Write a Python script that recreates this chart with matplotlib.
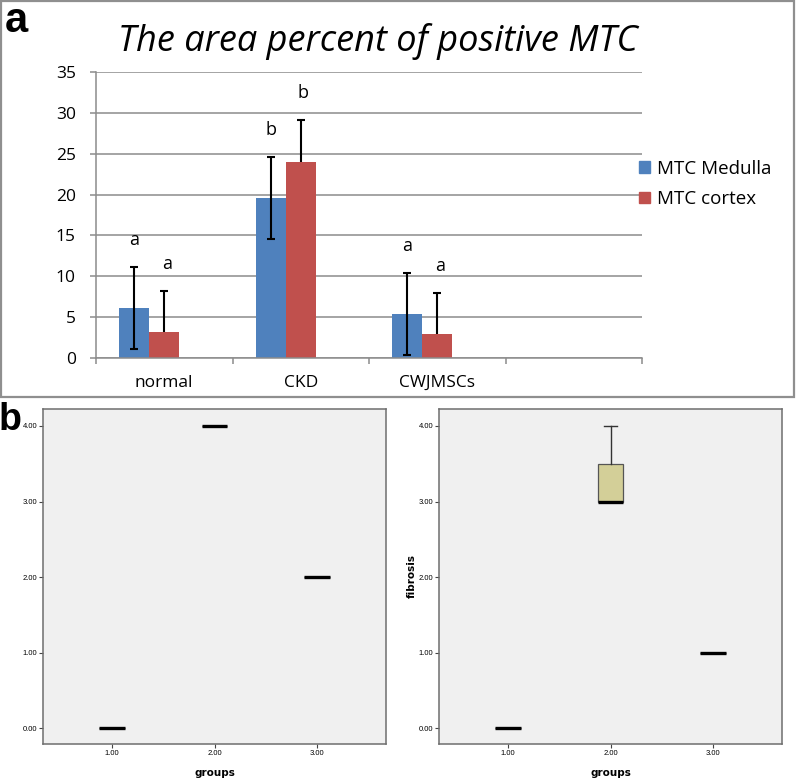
import numpy as np
import matplotlib
matplotlib.use("Agg")
import matplotlib.pyplot as plt
from matplotlib.patches import Rectangle, Patch

W, H = 797, 782

# panel a data
groups_a = ["normal", "CKD", "CWJMSCs", ""]
medulla = [6.1, 19.6, 5.4]
medulla_err = [5.0, 5.0, 5.0]
cortex = [3.2, 24.0, 2.9]
cortex_err = [5.0, 5.1, 5.1]
sig_medulla = ["a", "b", "a"]
sig_cortex = ["a", "b", "a"]

# panel b data (scores per group)
group_ticks = [1, 2, 3]
left_scores = [[0, 0, 0, 0, 0], [4, 4, 4, 4, 4], [2, 2, 2, 2, 2]]
fibrosis = [[0, 0, 0, 0, 0], [3, 3, 3, 3, 4], [1, 1, 1, 1, 1]]

blue = "#4F81BD"
red = "#C0504D"
gridc = "#8c8c8c"
font = "Open Sans"


def px(l, t, r, b):
    return [l / W, 1 - b / H, (r - l) / W, (b - t) / H]


fig = plt.figure(figsize=(W / 100, H / 100), dpi=100)

# outer frame of panel a
fig.patches.append(Rectangle((1 / W, 1 - 397 / H), 793 / W, 396 / H,
                             transform=fig.transFigure, fill=False,
                             edgecolor="#8f8f8f", linewidth=1.6))

ax = fig.add_axes(px(96, 72, 642, 358))
x = np.arange(len(medulla))
bw = 0.22
ax.bar(x - bw, medulla, bw, color=blue, zorder=2)
ax.bar(x, cortex, bw, color=red, zorder=2)
ax.errorbar(x - bw, medulla, yerr=medulla_err, fmt="none", ecolor="black",
            elinewidth=1.5, capsize=3, capthick=1.5, zorder=3)
# cortex bars hide the lower half of their error bars
ax.errorbar(x, cortex, yerr=cortex_err, fmt="none", ecolor="black",
            elinewidth=1.5, capsize=3, capthick=1.5, zorder=1.9)
for i in range(len(medulla)):
    ax.text(x[i] - bw, medulla[i] + medulla_err[i] + 3.3, sig_medulla[i],
            ha="center", va="center", fontsize=13, family=font)
    ax.text(x[i] + 0.02, cortex[i] + cortex_err[i] + 3.3, sig_cortex[i],
            ha="center", va="center", fontsize=13, family=font)

ax.set_xlim(-0.5, len(groups_a) - 0.5)
ax.set_ylim(0, 35)
ax.set_yticks(np.arange(0, 36, 5))
ax.yaxis.grid(True, color=gridc, linewidth=1.1)
ax.set_axisbelow(True)
ax.set_xticks(np.arange(len(groups_a)))
ax.set_xticklabels(groups_a, family=font, fontsize=12.5)
ax.set_xticks(np.arange(len(groups_a) + 1) - 0.5, minor=True)
ax.tick_params(axis="x", which="major", length=0, pad=12)
ax.tick_params(axis="x", which="minor", length=4, width=1.1, color=gridc)
ax.tick_params(axis="y", length=4.5, width=1.1, color=gridc, pad=10,
               labelsize=12.5)
for lab in ax.get_yticklabels():
    lab.set_family(font)
for s in ["top", "right"]:
    ax.spines[s].set_visible(False)
for s in ["left", "bottom"]:
    ax.spines[s].set_color(gridc)
    ax.spines[s].set_linewidth(1.1)

fig.text(378 / W, 1 - 42 / H, "The area percent of positive MTC",
         ha="center", va="center", fontsize=26, style="italic", family=font)
fig.text(5 / W, 1 - 32 / H, "a", fontsize=30, fontweight="bold",
         family="Liberation Sans", va="baseline")

fig.legend(handles=[Patch(color=blue, label="MTC Medulla"),
                    Patch(color=red, label="MTC cortex")],
           loc="center left", bbox_to_anchor=(639 / W, 1 - 184 / H),
           frameon=False, prop={"family": font, "size": 13.5},
           handlelength=0.6, handleheight=0.6, handletextpad=0.35,
           labelspacing=0.65, borderaxespad=0, borderpad=0)


def spss_stats(data):
    out = []
    for d in data:
        d = np.asarray(d, float)
        q1, med, q3 = np.percentile(d, [25, 50, 75], method="weibull")
        iqr = q3 - q1
        lo = d[d >= q1 - 1.5 * iqr].min()
        hi = d[d <= q3 + 1.5 * iqr].max()
        out.append(dict(med=med, q1=q1, q3=q3, whislo=lo, whishi=hi,
                        fliers=[]))
    return out


def box_panel(rect, data, ylabel):
    bx = fig.add_axes(rect)
    bx.set_facecolor("#f0f0f0")
    bx.bxp(spss_stats(data), positions=group_ticks, widths=0.25,
           capwidths=0.125, patch_artist=True, showfliers=False,
           boxprops=dict(facecolor="#d3cf98", edgecolor="#555555",
                         linewidth=0.9),
           whiskerprops=dict(color="#333333", linewidth=1.0),
           capprops=dict(color="#333333", linewidth=1.0),
           medianprops=dict(color="black", linewidth=2.4))
    bx.set_xlim(0.33, 3.67)
    bx.set_ylim(-0.21, 4.225)
    bx.set_xticks(group_ticks)
    bx.set_xticklabels(["%.2f" % g for g in group_ticks])
    bx.set_yticks([0, 1, 2, 3, 4])
    bx.set_yticklabels(["%.2f" % v for v in [0, 1, 2, 3, 4]])
    bx.tick_params(length=3, width=0.8, labelsize=5.5, pad=1.2,
                   color="#444444")
    for lab in bx.get_xticklabels() + bx.get_yticklabels():
        lab.set_family("Liberation Sans")
    for s in bx.spines.values():
        s.set_color("#6e6e6e")
        s.set_linewidth(1.1)
    bx.set_xlabel("groups", fontsize=7.5, fontweight="bold", labelpad=8)
    if ylabel:
        bx.set_ylabel(ylabel, fontsize=7.5, fontweight="bold", labelpad=1)
    return bx


box_panel(px(43, 409, 386, 744), left_scores, "")
box_panel(px(439, 409, 782, 744), fibrosis, "fibrosis")

fig.text(-1 / W, 1 - 430 / H, "b", fontsize=27, fontweight="bold",
         family="Liberation Sans", va="baseline")

fig.savefig("out.png", dpi=100)
